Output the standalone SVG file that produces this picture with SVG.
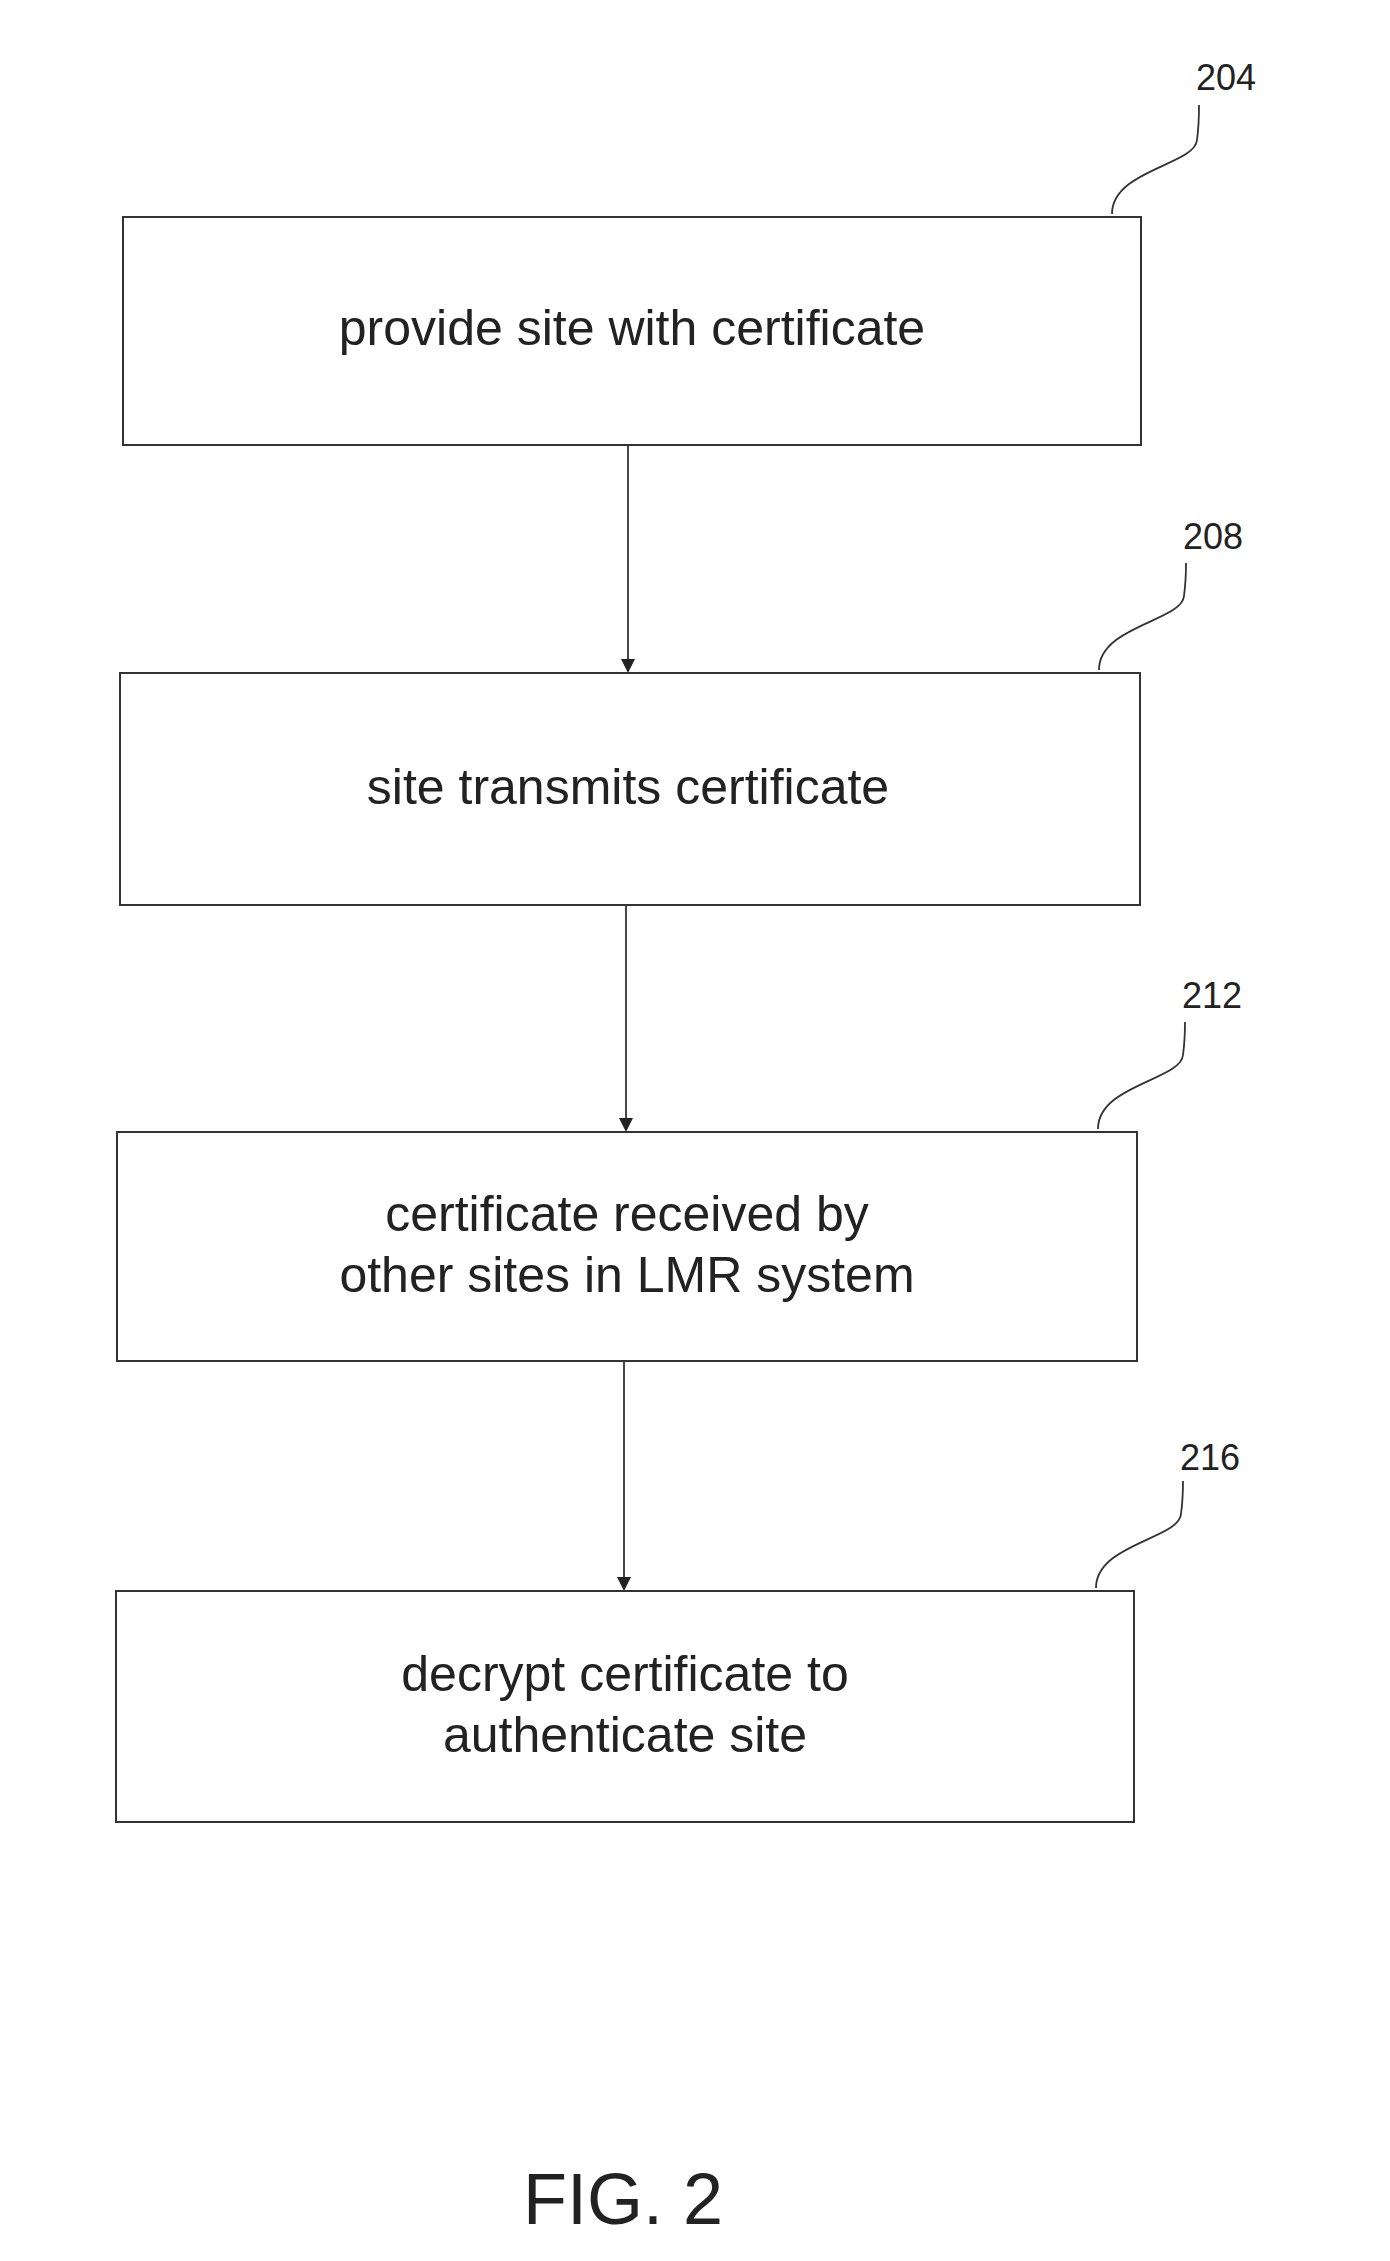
<svg xmlns="http://www.w3.org/2000/svg" width="1390" height="2261" viewBox="0 0 1390 2261">
<defs>
<style>
.box{fill:#fff;stroke:#333;stroke-width:2}
.t{font-family:"Liberation Sans",Arial,sans-serif;font-size:50px;fill:#222;text-anchor:middle}
.n{font-family:"Liberation Sans",Arial,sans-serif;font-size:36px;fill:#222;text-anchor:middle}
.c{stroke:#333;stroke-width:1.8;fill:none}
</style>
<marker id="ah" markerWidth="14" markerHeight="14" refX="12" refY="7" orient="auto" markerUnits="userSpaceOnUse"><path d="M0,0 L14,7 L0,14 z" fill="#222"/></marker>
</defs>
<rect width="1390" height="2261" fill="#fff"/>
<g id="n204"><rect class="box" x="123" y="217" width="1018" height="228"/><text class="t" x="632" y="345">provide site with certificate</text><text class="n" x="1226" y="90">204</text><path class="c" d="M1112,214 C1112,170 1195,165 1197,140 C1199,125 1199,115 1199,105"/></g>
<g id="n208"><rect class="box" x="120" y="673" width="1020" height="232"/><text class="t" x="628" y="804">site transmits certificate</text><text class="n" x="1213" y="549">208</text><path class="c" d="M1099,670 C1099,626 1182,621 1184,596 C1186,581 1186,571 1186,563"/></g>
<g id="n212"><rect class="box" x="117" y="1132" width="1020" height="229"/><text class="t" x="627" y="1231">certificate received by</text><text class="t" x="627" y="1292">other sites in LMR system</text><text class="n" x="1212" y="1008">212</text><path class="c" d="M1098,1129 C1098,1085 1181,1080 1183,1055 C1185,1040 1185,1030 1185,1022"/></g>
<g id="n216"><rect class="box" x="116" y="1591" width="1018" height="231"/><text class="t" x="625" y="1691">decrypt certificate to</text><text class="t" x="625" y="1752">authenticate site</text><text class="n" x="1210" y="1470">216</text><path class="c" d="M1096,1588 C1096,1544 1179,1539 1181,1514 C1183,1499 1183,1489 1183,1481"/></g>
<g id="connectors">
<line class="c" x1="628" y1="445" x2="628" y2="671" marker-end="url(#ah)"/>
<line class="c" x1="626" y1="905" x2="626" y2="1130" marker-end="url(#ah)"/>
<line class="c" x1="624" y1="1361" x2="624" y2="1589" marker-end="url(#ah)"/>
</g>
<text x="623" y="2224" style="font-family:'Liberation Sans',Arial,sans-serif;font-size:72px;fill:#222;text-anchor:middle">FIG. 2</text>
</svg>
